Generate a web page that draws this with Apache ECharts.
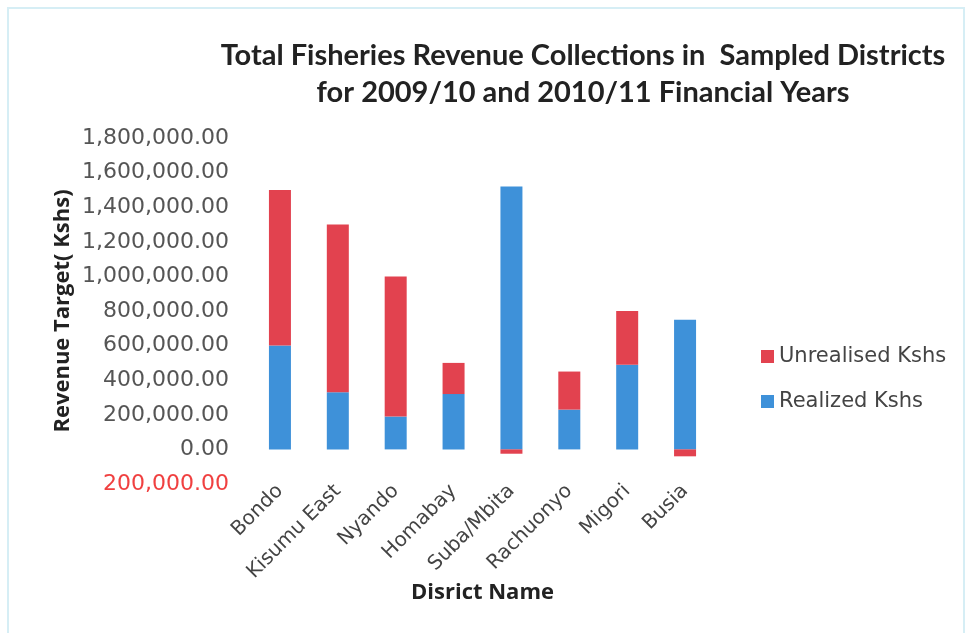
<!DOCTYPE html>
<html>
<head>
<meta charset="utf-8">
<script src="https://cdn.jsdelivr.net/npm/echarts@6/dist/echarts.min.js"></script>
<style>
  html, body { margin: 0; padding: 0; background: #fff; }
  #chart { width: 966px; height: 633px; }
</style>
</head>
<body>
<div id="chart"></div>
<script>
// districts on the x axis
var districts = ["Bondo", "Kisumu East", "Nyando", "Homabay", "Suba/Mbita", "Rachuonyo", "Migori", "Busia"];
// realized revenue (Kshs)
var realized = [600000, 330000, 190000, 320000, 1520000, 230000, 490000, 750000];
// unrealised revenue (Kshs), negative where collections went over target
var unrealised = [900000, 970000, 810000, 180000, -25000, 220000, 310000, -40000];

var fmt = function (v) {
  return Math.abs(v).toLocaleString("en-US", { minimumFractionDigits: 2, maximumFractionDigits: 2 });
};

var chart = echarts.init(document.getElementById("chart"));

var option = {
  backgroundColor: "#fff",
  textStyle: { fontFamily: "DejaVu Sans" },
  title: {
    text: "Total Fisheries Revenue Collections in  Sampled Districts\nfor 2009/10 and 2010/11 Financial Years",
    left: 578,
    top: 32,
    textAlign: "center",
    textStyle: { fontFamily: "Lato", fontWeight: "bold", fontSize: 29, lineHeight: 37, color: "#222" }
  },
  legend: {
    orient: "vertical",
    left: 756,
    top: 341,
    itemWidth: 13,
    itemHeight: 13,
    itemGap: 24,
    icon: "rect",
    data: ["Unrealised Kshs", "Realized Kshs"],
    textStyle: { fontFamily: "DejaVu Sans", fontSize: 21, color: "#444" }
  },
  grid: { left: 251, right: 252, top: 138, bottom: 149 },
  xAxis: {
    type: "category",
    data: districts,
    name: "Disrict Name",
    nameLocation: "middle",
    nameGap: 98,
    nameMoveOverlap: false,
    nameTextStyle: { fontFamily: "Open Sans", fontWeight: "bold", fontSize: 22, color: "#222" },
    axisLine: { show: false, onZero: false },
    axisTick: { show: false },
    axisLabel: { interval: 0, rotate: 45, margin: 4, fontFamily: "DejaVu Sans", fontSize: 20, color: "#444" }
  },
  yAxis: {
    type: "value",
    min: -200000,
    max: 1800000,
    interval: 200000,
    name: "Revenue Target( Kshs)",
    nameLocation: "middle",
    nameGap: 177,
    nameMoveOverlap: false,
    nameTextStyle: { fontFamily: "Open Sans", fontWeight: "bold", fontSize: 22, color: "#222" },
    axisLine: { show: false },
    axisTick: { show: false },
    splitLine: { show: false },
    axisLabel: {
      margin: 22,
      fontFamily: "DejaVu Sans",
      fontSize: 22,
      color: "#555",
      formatter: function (v) {
        return v < 0 ? "{neg|" + fmt(v) + "}" : fmt(v);
      },
      rich: { neg: { color: "#f04040", fontFamily: "DejaVu Sans", fontSize: 22 } }
    }
  },
  series: [
    {
      name: "Realized Kshs",
      type: "bar",
      stack: "total",
      barWidth: 22,
      itemStyle: { color: "#3e91d9" },
      data: realized
    },
    {
      name: "Unrealised Kshs",
      type: "bar",
      stack: "total",
      barWidth: 22,
      itemStyle: { color: "#e2424f" },
      data: unrealised
    }
  ],
  graphic: [
    {
      type: "rect",
      shape: { x: 8, y: 8, width: 956, height: 640 },
      style: { fill: "none", stroke: "#d6eef5", lineWidth: 2 },
      silent: true
    }
  ]
};

chart.setOption(option);
</script>
</body>
</html>
